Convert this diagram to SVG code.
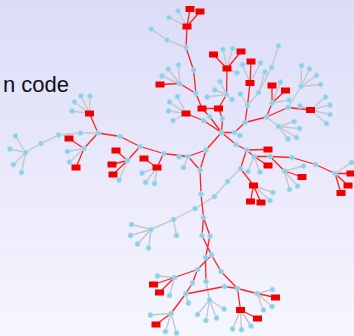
<svg xmlns="http://www.w3.org/2000/svg" width="354" height="336" viewBox="0 0 354 336">
<defs>
<linearGradient id="bg" x1="0" y1="0" x2="0" y2="1">
<stop offset="0" stop-color="#dcdcf8"/>
<stop offset="1" stop-color="#f6f6fe"/>
</linearGradient>
<style>
.g{fill:none;stroke:#c6c6cc;stroke-width:1.4}
.rd{fill:none;stroke:#ff2222;stroke-width:1.3}
.b circle{fill:#88cfe9;stroke:#b0def0;stroke-width:.9}
.r rect{fill:#f00000}
.lbl{font-family:"Liberation Sans",Arial,sans-serif;font-size:22px;fill:#111}
</style>
</defs>
<rect width="354" height="336" fill="url(#bg)"/>
<text class="lbl" x="69" y="92" text-anchor="end">n code</text>
<g id="edges">
<path class="g" d="M187 26.5L178 11M187 26.5L169 17.5M186 47.5L167 40M167 40L151 29M179.5 83.5L168.5 69M179.5 83.5L178.5 65M179.5 83.5L162 76M186 113.5L177.5 96.5M186 113.5L169.5 102M186 113.5L168.5 111M186 113.5L173 120.5M227 68.5L223 49.5M227 68.5L232.5 48.5M227 68.5L237 73M226.5 94.5L220 81.5M226.5 94.5L215 90M226.5 94.5L207 97M226.5 94.5L232 99.5M234.5 132.5L240 135.5M250 83L242.5 64.5M250 83L260.5 63M247.5 105.5L240.5 94M278.5 46L271.5 67.5M271.5 67.5L258.5 92.5M265 72L258.5 92.5M258.5 92.5L247.5 105.5M272 103L280.5 82M272 103L289 100M301 86.5L301.5 65.5M301 86.5L309.5 69M301 86.5L316.5 75.5M301 86.5L320.5 84.5M301 86.5L288 107.5M310.5 110L300 106M310.5 110L325.5 97M310.5 110L330 105M310.5 110L330 114.5M310.5 110L326.5 123.5M266.5 117L278.5 126.5M278.5 126.5L294 121.5M278.5 126.5L299.5 128.5M278.5 126.5L296.5 137.5M278.5 126.5L288 139M253.5 185.5L273 192.5M253.5 185.5L270 200.5M254 156.5L248 171.5M254 156.5L260 172M284.5 171L303.5 166M284.5 171L297.5 186M284.5 171L289.5 189.5M335 173.5L351.5 162.5M188 156.5L179 157M188 156.5L183.5 167.5M157 167.5L142 173M157 167.5L145.5 182.5M157 167.5L154.5 183.5M127.5 160.5L119 180M89.5 113.5L81 96M89.5 113.5L90 96M89.5 113.5L74.5 102M89.5 113.5L72 111M84 148.5L67.5 151.5M84 148.5L69.5 162M98 133L80.5 133M80.5 133L58.5 135M58.5 135L41 143.5M41 143.5L25.5 152.5M25.5 152.5L15.5 136M25.5 152.5L10 149M25.5 152.5L13.5 164.5M25.5 152.5L21.5 172.5M206 281.5L209.5 300M209.5 300L197.5 314.5M209.5 300L206 320.5M209.5 300L216.5 318M209.5 300L224 309M174.5 277.5L157.5 276M174.5 277.5L169.5 295.5M185.5 294L188.5 303M171 313.5L150.5 315M171 313.5L165.5 331.5M171 313.5L176.5 333M257 293.5L272.5 289.5M257 293.5L272 306.5M257 293.5L263.5 310M240.5 310L232.5 329M240.5 310L241.5 329.5M240.5 310L251 326M240.5 168.5L227.5 181.5M227.5 181.5L214.5 196.5M214.5 196.5L195 208.5M195 208.5L173.5 219.5M173.5 219.5L176.5 235.5M173.5 219.5L151 229.5M151 229.5L131.5 224.5M151 229.5L130.5 235.5M151 229.5L137.5 244M151 229.5L148.5 248"/>
<path class="rd" d="M187 26.5L190 9M187 26.5L200 11.5M187 26.5L186 47.5M186 47.5L193.5 70M193.5 70L196 93.5M179.5 83.5L196 93.5M179.5 83.5L160 84.5M196 93.5L202 108.5M202 108.5L218.5 108.5M218.5 108.5L226.5 94.5M226.5 94.5L227 68.5M227 68.5L213.5 54.5M227 68.5L241 51.5M202 108.5L209.5 116.5M209.5 116.5L221.5 132.5M218.5 108.5L222.5 118.5M222.5 118.5L221.5 132.5M186 113.5L203.5 120.5M203.5 120.5L221.5 132.5M221.5 132.5L234.5 132.5M234.5 132.5L245 122.5M245 122.5L247.5 105.5M247.5 105.5L250 83M250 83L251 61.5M245 122.5L266.5 117M266.5 117L272 103M272 103L272 85.5M272 103L285.5 90.5M266.5 117L288 107.5M288 107.5L310.5 110M221.5 132.5L206 150M221.5 132.5L236 144.5M236 144.5L246.5 150M246.5 150L240.5 168.5M246.5 150L254 156.5M246.5 150L268 149.5M240.5 168.5L253.5 185.5M253.5 185.5L250.5 201.5M253.5 185.5L261 202.5M254 156.5L268 165.5M254 156.5L270 156.5M270 156.5L292 157.5M292 157.5L315.5 164.5M315.5 164.5L335 173.5M335 173.5L351 173.5M335 173.5L348 185.5M335 173.5L341 193M270 156.5L284.5 171M284.5 171L302 177M206 150L188 156.5M206 150L200 170M188 156.5L200 170M188 156.5L163.5 153.5M163.5 153.5L157 167.5M157 167.5L144 158.5M163.5 153.5L140 146.5M140 146.5L127.5 160.5M127.5 160.5L116 150.5M127.5 160.5L112 164.5M127.5 160.5L113 174.5M140 146.5L120 136.5M120 136.5L98 133M98 133L89.5 113.5M98 133L84 148.5M84 148.5L69 138.5M84 148.5L76 167.5M200 170L201 194M201 194L203.5 217.5M203.5 217.5L202 235.5M203.5 217.5L210 236M202 235.5L211.5 255M210 236L205.5 257.5M205.5 257.5L206 281.5M211.5 255L197.5 269.5M211.5 255L221 271.5M197.5 269.5L174.5 277.5M174.5 277.5L153.5 284.5M174.5 277.5L159.5 292.5M197.5 269.5L192.5 283M192.5 283L185.5 294M185.5 294L171 313.5M171 313.5L156 324.5M185.5 294L224.5 286.5M224.5 286.5L237.5 288.5M221 271.5L237.5 288.5M237.5 288.5L257 293.5M257 293.5L275.5 297.5M237.5 288.5L240.5 310M240.5 310L257.5 318.5"/>
</g>
<g id="t1" class="r"><rect x="185.5" y="6" width="9" height="6"/></g>
<g id="t2" class="r"><rect x="195.5" y="8.5" width="9" height="6"/></g>
<g id="t3" class="b"><circle cx="178" cy="11" r="2.5"/></g>
<g id="t4" class="b"><circle cx="169" cy="17.5" r="2.5"/></g>
<g id="t5" class="r"><rect x="182.5" y="23.5" width="9" height="6"/></g>
<g id="t6" class="b"><circle cx="186" cy="47.5" r="2.5"/></g>
<g id="t7" class="b"><circle cx="167" cy="40" r="2.5"/></g>
<g id="t8" class="b"><circle cx="151" cy="29" r="2.5"/></g>
<g id="t9" class="b"><circle cx="193.5" cy="70" r="2.5"/></g>
<g id="t10" class="b"><circle cx="196" cy="93.5" r="2.5"/></g>
<g id="h1" class="b"><circle cx="179.5" cy="83.5" r="2.5"/></g>
<g id="h2" class="r"><rect x="155.5" y="81.5" width="9" height="6"/></g>
<g id="h3" class="b"><circle cx="168.5" cy="69" r="2.5"/></g>
<g id="h4" class="b"><circle cx="178.5" cy="65" r="2.5"/></g>
<g id="h5" class="b"><circle cx="162" cy="76" r="2.5"/></g>
<g id="q1" class="r"><rect x="181.5" y="110.5" width="9" height="6"/></g>
<g id="q2" class="b"><circle cx="177.5" cy="96.5" r="2.5"/></g>
<g id="q3" class="b"><circle cx="169.5" cy="102" r="2.5"/></g>
<g id="q4" class="b"><circle cx="168.5" cy="111" r="2.5"/></g>
<g id="q5" class="b"><circle cx="173" cy="120.5" r="2.5"/></g>
<g id="a1" class="r"><rect x="209" y="51.5" width="9" height="6"/></g>
<g id="a2" class="r"><rect x="222.5" y="65.5" width="9" height="6"/></g>
<g id="a3" class="b"><circle cx="223" cy="49.5" r="2.5"/></g>
<g id="a4" class="b"><circle cx="232.5" cy="48.5" r="2.5"/></g>
<g id="a5" class="b"><circle cx="237" cy="73" r="2.5"/></g>
<g id="a6" class="r"><rect x="236.5" y="48.5" width="9" height="6"/></g>
<g id="d1" class="b"><circle cx="226.5" cy="94.5" r="2.5"/></g>
<g id="d2" class="b"><circle cx="220" cy="81.5" r="2.5"/></g>
<g id="d3" class="b"><circle cx="215" cy="90" r="2.5"/></g>
<g id="d4" class="b"><circle cx="207" cy="97" r="2.5"/></g>
<g id="d5" class="b"><circle cx="232" cy="99.5" r="2.5"/></g>
<g id="m1" class="r"><rect x="197.5" y="105.5" width="9" height="6"/></g>
<g id="m2" class="r"><rect x="214" y="105.5" width="9" height="6"/></g>
<g id="c1" class="b"><circle cx="209.5" cy="116.5" r="2.5"/></g>
<g id="c2" class="b"><circle cx="203.5" cy="120.5" r="2.5"/></g>
<g id="c3" class="b"><circle cx="222.5" cy="118.5" r="2.5"/></g>
<g id="c0" class="b"><circle cx="221.5" cy="132.5" r="2.5"/></g>
<g id="c4" class="b"><circle cx="234.5" cy="132.5" r="2.5"/></g>
<g id="c5" class="b"><circle cx="240" cy="135.5" r="2.5"/></g>
<g id="c6" class="b"><circle cx="236" cy="144.5" r="2.5"/></g>
<g id="c7" class="b"><circle cx="206" cy="150" r="2.5"/></g>
<g id="g1" class="r"><rect x="245.5" y="80" width="9" height="6"/></g>
<g id="g2" class="r"><rect x="246.5" y="58.5" width="9" height="6"/></g>
<g id="g3" class="b"><circle cx="242.5" cy="64.5" r="2.5"/></g>
<g id="g4" class="b"><circle cx="260.5" cy="63" r="2.5"/></g>
<g id="g5" class="b"><circle cx="247.5" cy="105.5" r="2.5"/></g>
<g id="g6" class="b"><circle cx="240.5" cy="94" r="2.5"/></g>
<g id="g7" class="b"><circle cx="258.5" cy="92.5" r="2.5"/></g>
<g id="g8" class="b"><circle cx="271.5" cy="67.5" r="2.5"/></g>
<g id="g9" class="b"><circle cx="278.5" cy="46" r="2.5"/></g>
<g id="g10" class="b"><circle cx="265" cy="72" r="2.5"/></g>
<g id="g11" class="b"><circle cx="245" cy="122.5" r="2.5"/></g>
<g id="k1" class="r"><rect x="267.5" y="82.5" width="9" height="6"/></g>
<g id="k2" class="b"><circle cx="272" cy="103" r="2.5"/></g>
<g id="k3" class="b"><circle cx="280.5" cy="82" r="2.5"/></g>
<g id="k4" class="r"><rect x="281" y="87.5" width="9" height="6"/></g>
<g id="k5" class="b"><circle cx="289" cy="100" r="2.5"/></g>
<g id="k6" class="b"><circle cx="266.5" cy="117" r="2.5"/></g>
<g id="k7" class="b"><circle cx="288" cy="107.5" r="2.5"/></g>
<g id="k8" class="r"><rect x="306" y="107" width="9" height="6"/></g>
<g id="k9" class="b"><circle cx="301" cy="86.5" r="2.5"/></g>
<g id="k10" class="b"><circle cx="301.5" cy="65.5" r="2.5"/></g>
<g id="k11" class="b"><circle cx="309.5" cy="69" r="2.5"/></g>
<g id="k12" class="b"><circle cx="316.5" cy="75.5" r="2.5"/></g>
<g id="k13" class="b"><circle cx="320.5" cy="84.5" r="2.5"/></g>
<g id="k14" class="b"><circle cx="300" cy="106" r="2.5"/></g>
<g id="k15" class="b"><circle cx="325.5" cy="97" r="2.5"/></g>
<g id="k16" class="b"><circle cx="330" cy="105" r="2.5"/></g>
<g id="k17" class="b"><circle cx="330" cy="114.5" r="2.5"/></g>
<g id="k18" class="b"><circle cx="326.5" cy="123.5" r="2.5"/></g>
<g id="p1" class="b"><circle cx="278.5" cy="126.5" r="2.5"/></g>
<g id="p2" class="b"><circle cx="294" cy="121.5" r="2.5"/></g>
<g id="p3" class="b"><circle cx="299.5" cy="128.5" r="2.5"/></g>
<g id="p4" class="b"><circle cx="296.5" cy="137.5" r="2.5"/></g>
<g id="p5" class="b"><circle cx="288" cy="139" r="2.5"/></g>
<g id="s1" class="b"><circle cx="246.5" cy="150" r="2.5"/></g>
<g id="s2" class="b"><circle cx="240.5" cy="168.5" r="2.5"/></g>
<g id="s3" class="r"><rect x="249" y="182.5" width="9" height="6"/></g>
<g id="s4" class="r"><rect x="246" y="198.5" width="9" height="6"/></g>
<g id="s5" class="r"><rect x="256.5" y="199.5" width="9" height="6"/></g>
<g id="s6" class="b"><circle cx="273" cy="192.5" r="2.5"/></g>
<g id="s7" class="b"><circle cx="270" cy="200.5" r="2.5"/></g>
<g id="s8" class="b"><circle cx="254" cy="156.5" r="2.5"/></g>
<g id="s9" class="b"><circle cx="248" cy="171.5" r="2.5"/></g>
<g id="s10" class="b"><circle cx="260" cy="172" r="2.5"/></g>
<g id="s11" class="r"><rect x="263.5" y="162.5" width="9" height="6"/></g>
<g id="s12" class="r"><rect x="263.5" y="146.5" width="9" height="6"/></g>
<g id="s13" class="b"><circle cx="270" cy="156.5" r="2.5"/></g>
<g id="s14" class="b"><circle cx="292" cy="157.5" r="2.5"/></g>
<g id="s15" class="b"><circle cx="315.5" cy="164.5" r="2.5"/></g>
<g id="s16" class="b"><circle cx="335" cy="173.5" r="2.5"/></g>
<g id="s17" class="b"><circle cx="351.5" cy="162.5" r="2.5"/></g>
<g id="s18" class="r"><rect x="346.5" y="170.5" width="9" height="6"/></g>
<g id="s19" class="r"><rect x="343.5" y="182.5" width="9" height="6"/></g>
<g id="s20" class="r"><rect x="336.5" y="190" width="9" height="6"/></g>
<g id="s21" class="b"><circle cx="284.5" cy="171" r="2.5"/></g>
<g id="s22" class="b"><circle cx="303.5" cy="166" r="2.5"/></g>
<g id="s23" class="r"><rect x="297.5" y="174" width="9" height="6"/></g>
<g id="s24" class="b"><circle cx="297.5" cy="186" r="2.5"/></g>
<g id="s25" class="b"><circle cx="289.5" cy="189.5" r="2.5"/></g>
<g id="L1" class="b"><circle cx="188" cy="156.5" r="2.5"/></g>
<g id="L2" class="b"><circle cx="179" cy="157" r="2.5"/></g>
<g id="L3" class="b"><circle cx="183.5" cy="167.5" r="2.5"/></g>
<g id="L4" class="b"><circle cx="200" cy="170" r="2.5"/></g>
<g id="L5" class="b"><circle cx="163.5" cy="153.5" r="2.5"/></g>
<g id="L6" class="r"><rect x="152.5" y="164.5" width="9" height="6"/></g>
<g id="L7" class="r"><rect x="139.5" y="155.5" width="9" height="6"/></g>
<g id="L8" class="b"><circle cx="142" cy="173" r="2.5"/></g>
<g id="L9" class="b"><circle cx="145.5" cy="182.5" r="2.5"/></g>
<g id="L10" class="b"><circle cx="154.5" cy="183.5" r="2.5"/></g>
<g id="L11" class="b"><circle cx="140" cy="146.5" r="2.5"/></g>
<g id="L12" class="b"><circle cx="127.5" cy="160.5" r="2.5"/></g>
<g id="L13" class="r"><rect x="111.5" y="147.5" width="9" height="6"/></g>
<g id="L14" class="r"><rect x="107.5" y="161.5" width="9" height="6"/></g>
<g id="L15" class="r"><rect x="108.5" y="171.5" width="9" height="6"/></g>
<g id="L16" class="b"><circle cx="119" cy="180" r="2.5"/></g>
<g id="L17" class="b"><circle cx="120" cy="136.5" r="2.5"/></g>
<g id="L18" class="b"><circle cx="98" cy="133" r="2.5"/></g>
<g id="L19" class="r"><rect x="85" y="110.5" width="9" height="6"/></g>
<g id="L20" class="b"><circle cx="81" cy="96" r="2.5"/></g>
<g id="L21" class="b"><circle cx="90" cy="96" r="2.5"/></g>
<g id="L22" class="b"><circle cx="74.5" cy="102" r="2.5"/></g>
<g id="L23" class="b"><circle cx="72" cy="111" r="2.5"/></g>
<g id="L24" class="b"><circle cx="84" cy="148.5" r="2.5"/></g>
<g id="L25" class="r"><rect x="64.5" y="135.5" width="9" height="6"/></g>
<g id="L26" class="b"><circle cx="67.5" cy="151.5" r="2.5"/></g>
<g id="L27" class="b"><circle cx="69.5" cy="162" r="2.5"/></g>
<g id="L28" class="r"><rect x="71.5" y="164.5" width="9" height="6"/></g>
<g id="L29" class="b"><circle cx="80.5" cy="133" r="2.5"/></g>
<g id="L30" class="b"><circle cx="58.5" cy="135" r="2.5"/></g>
<g id="L31" class="b"><circle cx="41" cy="143.5" r="2.5"/></g>
<g id="L32" class="b"><circle cx="25.5" cy="152.5" r="2.5"/></g>
<g id="L33" class="b"><circle cx="15.5" cy="136" r="2.5"/></g>
<g id="L34" class="b"><circle cx="10" cy="149" r="2.5"/></g>
<g id="L35" class="b"><circle cx="13.5" cy="164.5" r="2.5"/></g>
<g id="L36" class="b"><circle cx="21.5" cy="172.5" r="2.5"/></g>
<g id="v1" class="b"><circle cx="201" cy="194" r="2.5"/></g>
<g id="v2" class="b"><circle cx="203.5" cy="217.5" r="2.5"/></g>
<g id="v3" class="b"><circle cx="202" cy="235.5" r="2.5"/></g>
<g id="v4" class="b"><circle cx="210" cy="236" r="2.5"/></g>
<g id="v5" class="b"><circle cx="211.5" cy="255" r="2.5"/></g>
<g id="v6" class="b"><circle cx="205.5" cy="257.5" r="2.5"/></g>
<g id="v7" class="b"><circle cx="206" cy="281.5" r="2.5"/></g>
<g id="v8" class="b"><circle cx="209.5" cy="300" r="2.5"/></g>
<g id="v9" class="b"><circle cx="197.5" cy="314.5" r="2.5"/></g>
<g id="v10" class="b"><circle cx="206" cy="320.5" r="2.5"/></g>
<g id="v11" class="b"><circle cx="216.5" cy="318" r="2.5"/></g>
<g id="v12" class="b"><circle cx="224" cy="309" r="2.5"/></g>
<g id="v13" class="b"><circle cx="197.5" cy="269.5" r="2.5"/></g>
<g id="v14" class="b"><circle cx="174.5" cy="277.5" r="2.5"/></g>
<g id="v15" class="b"><circle cx="157.5" cy="276" r="2.5"/></g>
<g id="v16" class="r"><rect x="149" y="281.5" width="9" height="6"/></g>
<g id="v17" class="r"><rect x="155" y="289.5" width="9" height="6"/></g>
<g id="v18" class="b"><circle cx="169.5" cy="295.5" r="2.5"/></g>
<g id="v19" class="b"><circle cx="192.5" cy="283" r="2.5"/></g>
<g id="v20" class="b"><circle cx="185.5" cy="294" r="2.5"/></g>
<g id="v21" class="b"><circle cx="188.5" cy="303" r="2.5"/></g>
<g id="v22" class="b"><circle cx="171" cy="313.5" r="2.5"/></g>
<g id="v23" class="b"><circle cx="150.5" cy="315" r="2.5"/></g>
<g id="v24" class="r"><rect x="151.5" y="321.5" width="9" height="6"/></g>
<g id="v25" class="b"><circle cx="165.5" cy="331.5" r="2.5"/></g>
<g id="v26" class="b"><circle cx="176.5" cy="333" r="2.5"/></g>
<g id="v27" class="b"><circle cx="221" cy="271.5" r="2.5"/></g>
<g id="v28" class="b"><circle cx="224.5" cy="286.5" r="2.5"/></g>
<g id="v29" class="b"><circle cx="237.5" cy="288.5" r="2.5"/></g>
<g id="v30" class="b"><circle cx="257" cy="293.5" r="2.5"/></g>
<g id="v31" class="b"><circle cx="272.5" cy="289.5" r="2.5"/></g>
<g id="v32" class="r"><rect x="271" y="294.5" width="9" height="6"/></g>
<g id="v33" class="b"><circle cx="272" cy="306.5" r="2.5"/></g>
<g id="v34" class="b"><circle cx="263.5" cy="310" r="2.5"/></g>
<g id="v35" class="r"><rect x="236" y="307" width="9" height="6"/></g>
<g id="v36" class="b"><circle cx="232.5" cy="329" r="2.5"/></g>
<g id="v37" class="b"><circle cx="241.5" cy="329.5" r="2.5"/></g>
<g id="v38" class="b"><circle cx="251" cy="326" r="2.5"/></g>
<g id="v39" class="r"><rect x="253" y="315.5" width="9" height="6"/></g>
<g id="w1" class="b"><circle cx="227.5" cy="181.5" r="2.5"/></g>
<g id="w2" class="b"><circle cx="214.5" cy="196.5" r="2.5"/></g>
<g id="w3" class="b"><circle cx="195" cy="208.5" r="2.5"/></g>
<g id="w4" class="b"><circle cx="173.5" cy="219.5" r="2.5"/></g>
<g id="w5" class="b"><circle cx="176.5" cy="235.5" r="2.5"/></g>
<g id="w6" class="b"><circle cx="151" cy="229.5" r="2.5"/></g>
<g id="w7" class="b"><circle cx="131.5" cy="224.5" r="2.5"/></g>
<g id="w8" class="b"><circle cx="130.5" cy="235.5" r="2.5"/></g>
<g id="w9" class="b"><circle cx="137.5" cy="244" r="2.5"/></g>
<g id="w10" class="b"><circle cx="148.5" cy="248" r="2.5"/></g>
</svg>
